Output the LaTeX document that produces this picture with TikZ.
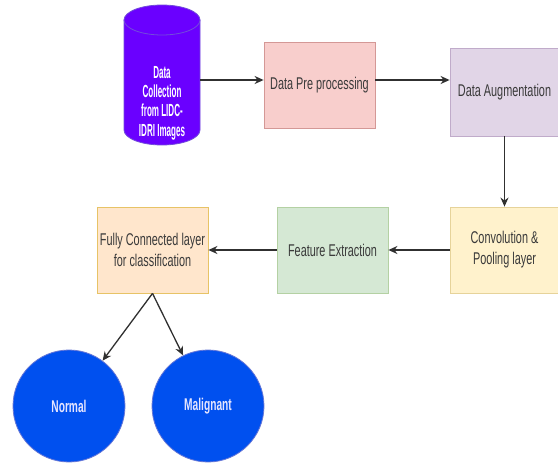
\documentclass[tikz,border=0pt]{standalone}
\usepackage{fontspec}
\usetikzlibrary{arrows.meta}
\newfontfamily\boxfont[FakeStretch=0.64]{Liberation Sans}
\newfontfamily\circfont[FakeStretch=0.6]{Liberation Sans}
\newfontfamily\cylfont[FakeStretch=0.46]{Liberation Sans}
\definecolor{cylfill}{HTML}{6A00FF}
\definecolor{cyldraw}{HTML}{3700CC}
\definecolor{circfill}{HTML}{0050EF}
\definecolor{circdraw}{HTML}{001DBC}
\definecolor{prefill}{HTML}{F8CECC}\definecolor{predraw}{HTML}{B85450}
\definecolor{augfill}{HTML}{E1D5E7}\definecolor{augdraw}{HTML}{9673A6}
\definecolor{convfill}{HTML}{FFF2CC}\definecolor{convdraw}{HTML}{D6B656}
\definecolor{fefill}{HTML}{D5E8D4}\definecolor{fedraw}{HTML}{82B366}
\definecolor{fcfill}{HTML}{FFE6CC}\definecolor{fcdraw}{HTML}{D79B00}
\definecolor{txt}{HTML}{3A3A3A}
\definecolor{line}{HTML}{303030}
\begin{document}
\begin{tikzpicture}[x=1pt,y=-1pt,
  boxstyle/.style={rectangle, minimum width=111pt, minimum height=86pt, inner sep=0pt,
    line width=0.8pt, text=txt, align=center,
    font=\boxfont\fontsize{17}{21}\selectfont},
  circstyle/.style={circle, minimum size=112pt, inner sep=0pt, fill=circfill, draw=circdraw!60,
    line width=0.8pt, text=white!90!blue,
    font=\circfont\bfseries\fontsize{17}{20}\selectfont},
  arr/.style={draw=line, line width=1.3pt, -{Stealth[length=9pt,width=8pt]}}]
\useasboundingbox (0,0) rectangle (558,464);
\fill[white] (0,0) rectangle (558,464);
% cylinder
\path[fill=cylfill, draw=cyldraw!70, line width=0.8pt] (124,20) -- (124,130)
  arc[start angle=180, end angle=0, x radius=38, y radius=15] -- (200,20) -- cycle;
\path[fill=cylfill, draw=cyldraw!70, line width=0.8pt] (162,20) ellipse[x radius=38, y radius=15];
\node[minimum width=76pt, minimum height=140pt, inner sep=0pt] (cyl) at (162,75) {};
\node[text=white, align=center, font=\cylfont\bfseries\fontsize{17.5}{19.3}\selectfont] (cyltext) at (162,103)
  {Data\\Collection\\from LIDC-\\IDRI Images};
% boxes
\node[boxstyle, fill=prefill, draw=predraw!60] (pre) at (319.5,85) {Data Pre processing};
\node[boxstyle, fill=augfill, draw=augdraw!60, minimum width=109pt, minimum height=88pt] (aug) at (504.5,92) {Data Augmentation};
\node[boxstyle, fill=convfill, draw=convdraw!60, minimum width=109pt] (conv) at (504.5,250) {Convolution \&\\Pooling layer};
\node[boxstyle, fill=fefill, draw=fedraw!60] (fe) at (332.5,250) {Feature Extraction};
\node[boxstyle, fill=fcfill, draw=fcdraw!60] (fc) at (152.5,250) {Fully Connected layer\\for classification};
% circles
\node[circstyle] (normal) at (69,406) {Normal};
\node[circstyle] (malig) at (208,406) {Malignant};
% connectors
\coordinate (lvl) at (0,80);
\draw[arr] (cyl.east |- lvl) -- (pre.west |- lvl);
\draw[arr] (pre.east |- lvl) -- (aug.west |- lvl);
\draw[arr] (aug.south) -- (conv.north);
\draw[arr] (conv.west) -- (fe.east);
\draw[arr] (fe.west) -- (fc.east);
\draw[arr] (fc.south) -- (normal);
\draw[arr] (fc.south) -- (malig);
\end{tikzpicture}
\end{document}
